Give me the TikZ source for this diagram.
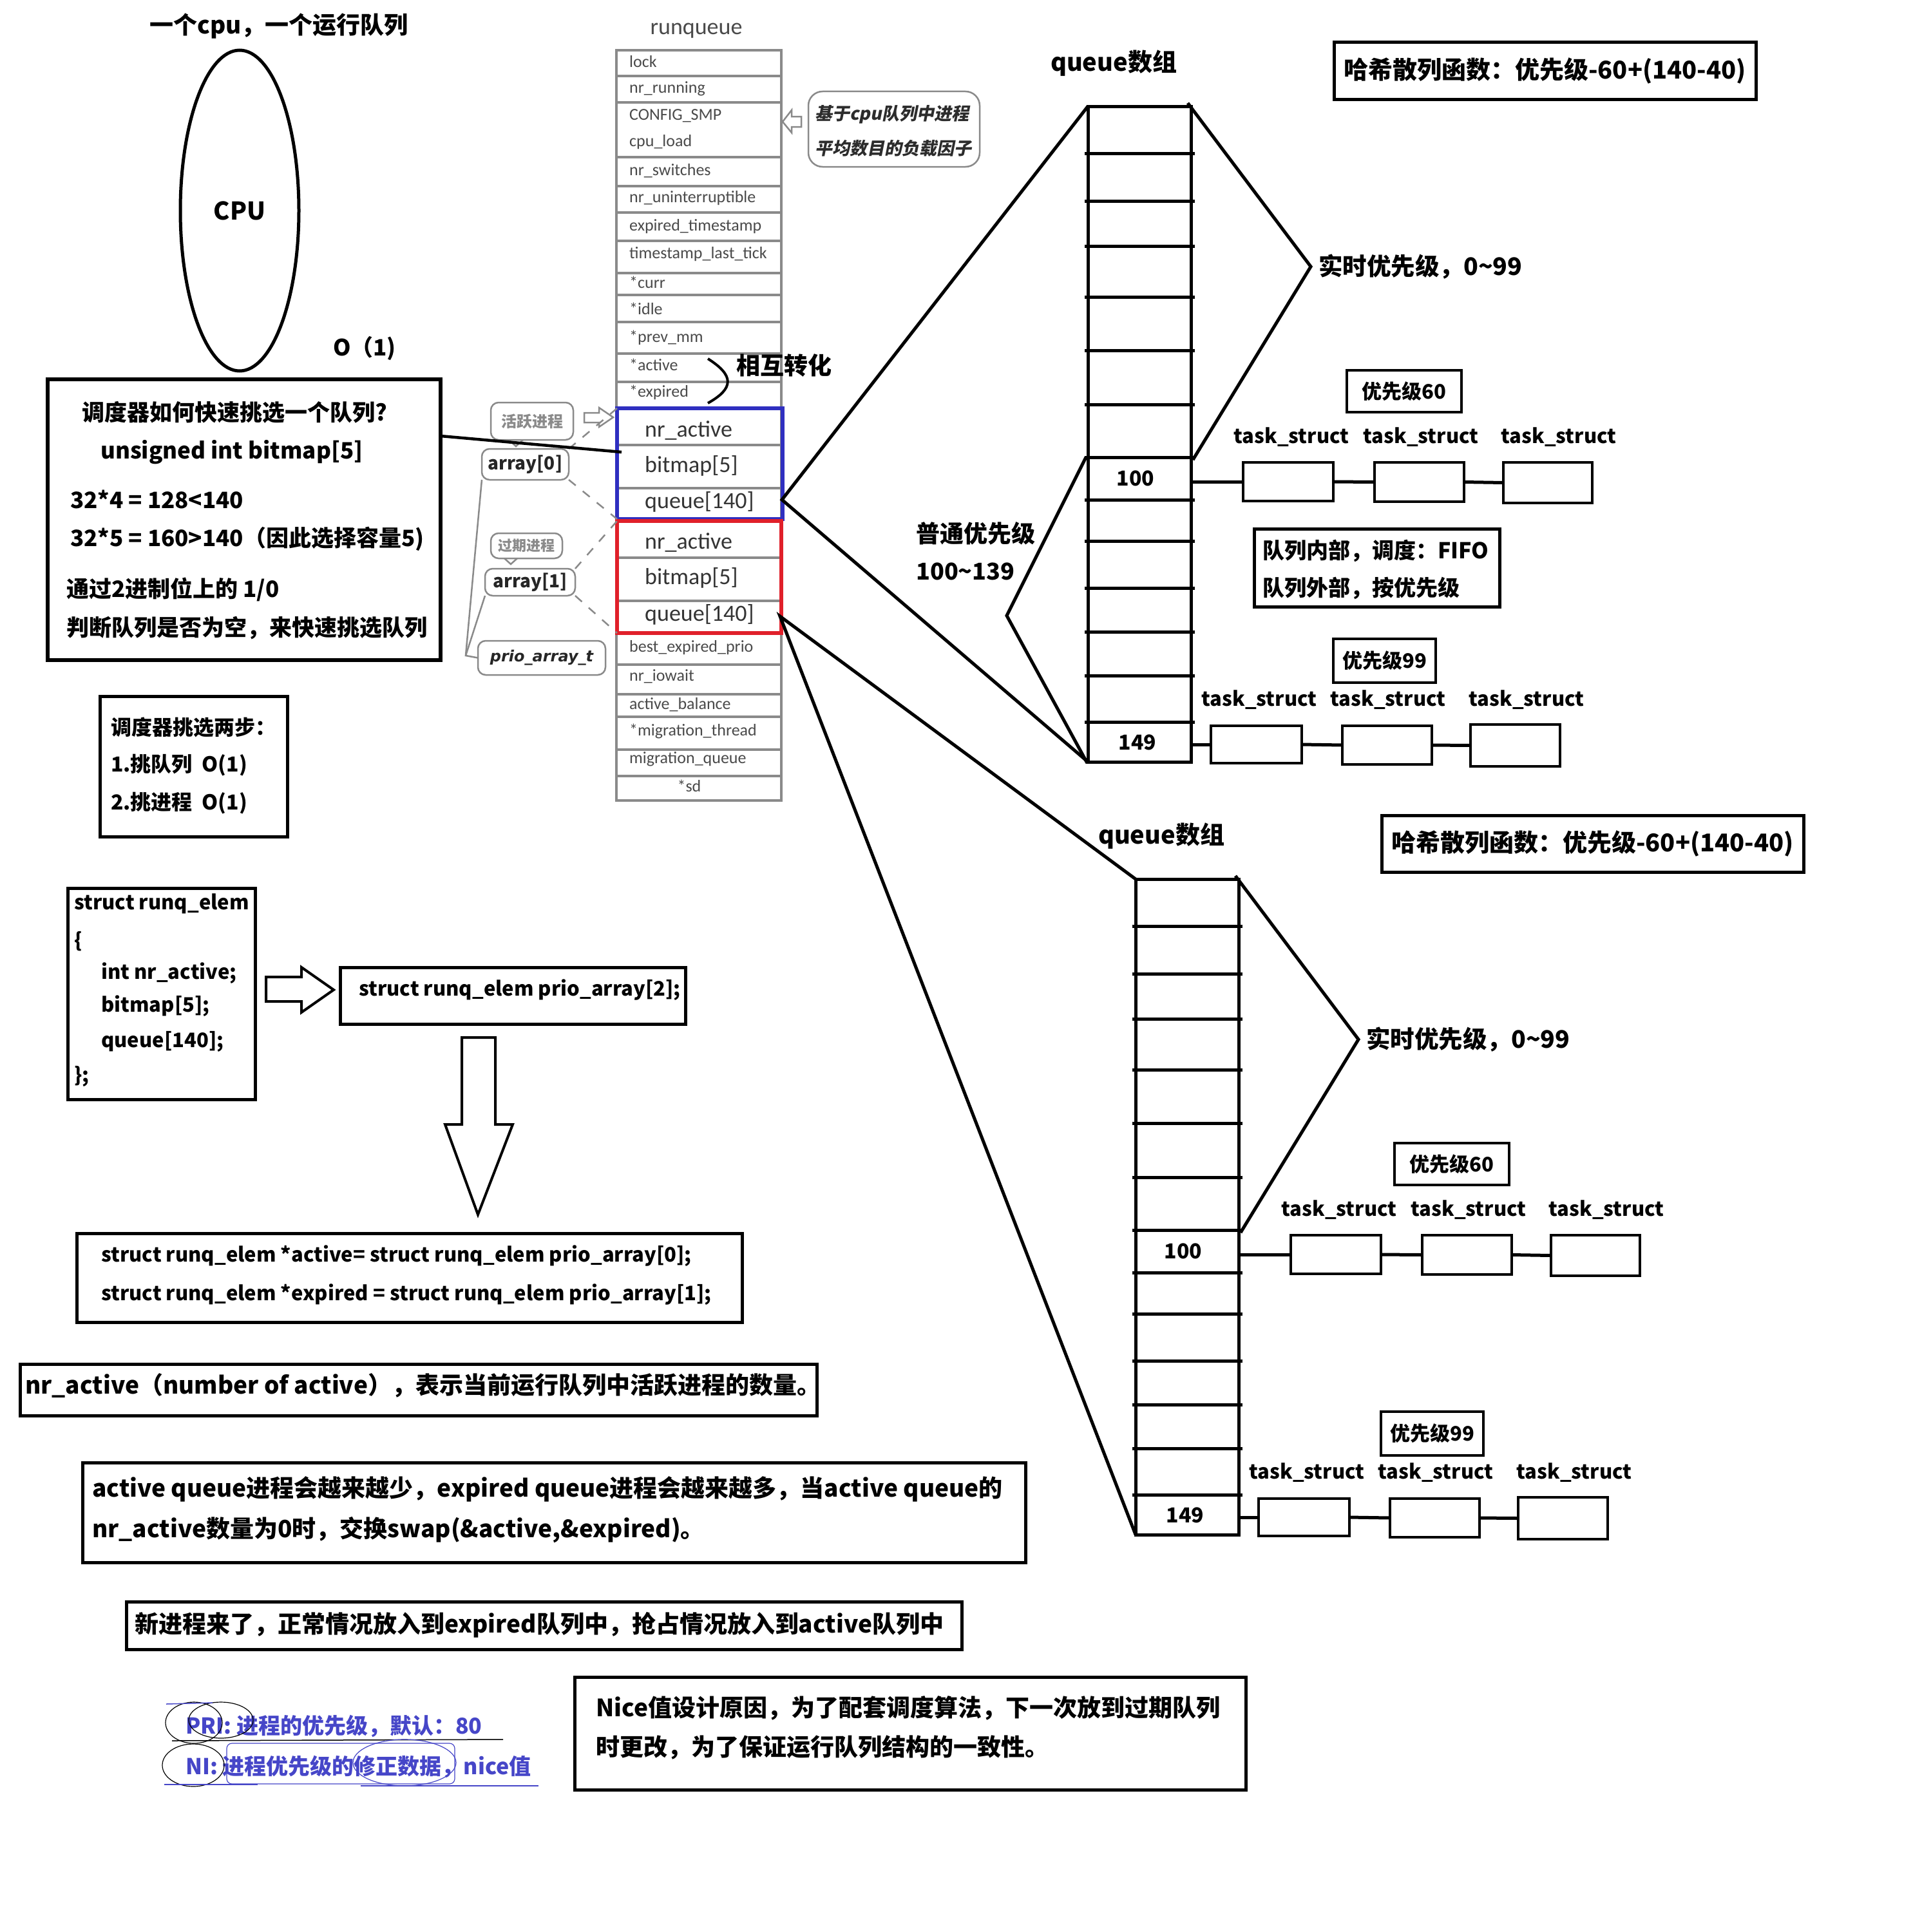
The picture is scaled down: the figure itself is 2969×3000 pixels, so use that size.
\documentclass[tikz,border=0pt]{standalone}
\usepackage{fontspec}
\setmainfont{Noto Sans CJK SC}
\newfontfamily\carl{Carlito}
\newfontfamily\dvs{DejaVu Sans}
\newfontfamily\slcjk{Noto Sans CJK SC}[FakeSlant=0.2]
\usetikzlibrary{shapes.geometric}
\newcommand\fsz[1]{\fontsize{#1}{#1}\selectfont}
\definecolor{tgray}{HTML}{8A8A8A}
\definecolor{ttext}{HTML}{4A4A4A}
\definecolor{bboxc}{HTML}{2F2FC0}
\definecolor{rboxc}{HTML}{E0202A}
\definecolor{pblue}{HTML}{4646C8}
\newcommand\rectnode[6][]{\node[bx,minimum width={((#5)-(#3))*1pt},minimum height={((#6)-(#4))*1pt},#1] (#2) at ({((#3)+(#5))/2},{((#4)+(#6))/2}) {};}
\tikzset{
  bx/.style={draw, line width=5pt, inner sep=0pt, outer sep=0pt},
  tx/.style={inner sep=0pt, anchor=west, font=\fsz{36}\bfseries},
  tc/.style={inner sep=0pt, font=\fsz{36}\bfseries},
  rq/.style={inner sep=0pt, anchor=west, text=ttext, font=\carl\fsz{26}},
  rqb/.style={inner sep=0pt, anchor=west, text=ttext!70!black, font=\carl\fsz{36}},
  ln/.style={line width=5pt},
  gl/.style={draw=tgray, line width=2.5pt, rounded corners=12pt},
  gline/.style={draw=tgray, line width=2.5pt},
}
\newcommand\qdiag[2]{%
\begin{scope}[shift={#1}]
\node[tc,font=\fsz{38}\bfseries] (qt#2) at (1729,98) {queue数组};
\rectnode{arr#2}{1689}{165}{1849}{1183}
\foreach \yy in {238,312,382,461,544,628,710,776,840,913,981,1049,1121}{\draw[line width=5pt] (1684,\yy) -- (1855,\yy);}
\node[tc,font=\fsz{32}\bfseries] (na#2) at (1763,743) {100};
\node[tc,font=\fsz{32}\bfseries] (nb#2) at (1766,1153) {149};
\coordinate (ra#2) at (1844,160);
\coordinate (rb#2) at (2035,414);
\coordinate (rc#2) at (1852,714);
\draw[ln] (ra#2) -- (rb#2) -- (rc#2);
\node[tx,font=\fsz{37.5}\bfseries] (rt#2) at (2047,414) {实时优先级，0\textasciitilde99};
\rectnode{hs#2}{2071}{66}{2726}{154}
\node[tc,font=\fsz{38}\bfseries] (hst#2) at (hs#2.center) {哈希散列函数：优先级-60+(140-40)};
\rectnode[line width=4.5pt]{pa#2}{2091}{575}{2269}{640}
\node[tc,font=\fsz{31}\bfseries] (pat#2) at (pa#2.center) {优先级60};
\node[tc,font=\fsz{31}\bfseries] (la#2) at (2005,679) {task\_struct};
\node[tc,font=\fsz{31}\bfseries] (lb#2) at (2206,679) {task\_struct};
\node[tc,font=\fsz{31}\bfseries] (lc#2) at (2420,679) {task\_struct};
\rectnode[line width=4.5pt]{tka#2}{1930}{718}{2070}{778}
\rectnode[line width=4.5pt]{tkb#2}{2134}{718}{2273}{779}
\rectnode[line width=4.5pt]{tkc#2}{2334}{718}{2472}{781}
\draw[ln] (arr#2.east |- tka#2.west) -- (tka#2.west);
\draw[ln] (tka#2.east) -- (tkb#2.west);
\draw[ln] (tkb#2.east) -- (tkc#2.west);
\rectnode[line width=4.5pt]{pb#2}{2070}{992}{2229}{1060}
\node[tc,font=\fsz{31}\bfseries] (pbt#2) at (pb#2.center) {优先级99};
\node[tc,font=\fsz{31}\bfseries] (ld#2) at (1955,1087) {task\_struct};
\node[tc,font=\fsz{31}\bfseries] (le#2) at (2155,1087) {task\_struct};
\node[tc,font=\fsz{31}\bfseries] (lf#2) at (2370,1087) {task\_struct};
\rectnode[line width=4.5pt]{tkd#2}{1880}{1127}{2021}{1185}
\rectnode[line width=4.5pt]{tke#2}{2084}{1127}{2223}{1187}
\rectnode[line width=4.5pt]{tkf#2}{2283}{1125}{2422}{1190}
\draw[ln] (arr#2.east |- tkd#2.west) -- (tkd#2.west);
\draw[ln] (tkd#2.east) -- (tke#2.west);
\draw[ln] (tke#2.east) -- (tkf#2.west);
\end{scope}}
\begin{document}
\begin{tikzpicture}[x=1pt,y=-1pt]
\useasboundingbox (0,0) rectangle (2969,3000);
\fill[white] (0,0) rectangle (2969,3000);

% ---------- CPU ----------
\node[tc,font=\fsz{37}\bfseries] (title) at (433,40) {一个cpu，一个运行队列};
\node[ellipse, draw, line width=5pt, minimum width=184pt, minimum height=498pt, inner sep=0pt, font=\fsz{38}\bfseries] (cpu) at (372,327) {CPU};
\node[tc,font=\fsz{35}\bfseries] (o1) at (566,541) {O（1)};

% ---------- box 1 ----------
\rectnode[line width=5.5pt]{bxa}{74}{589}{684}{1025}
\node[tx,font=\fsz{35}\bfseries] (b1a) at (127,640) {调度器如何快速挑选一个队列?};
\node[tx,font=\fsz{35}\bfseries] (b1b) at (156,702) {unsigned int bitmap[5]};
\node[tx,font=\fsz{35}\bfseries] (b1c) at (109,775) {32*4\ =\ 128<140};
\node[tx,font=\fsz{35}\bfseries] (b1d) at (109,837) {32*5\ =\ 160>140（因此选择容量5)};
\node[tx,font=\fsz{35}\bfseries] (b1e) at (103,915) {通过2进制位上的 1/0};
\node[tx,font=\fsz{35}\bfseries] (b1f) at (103,975) {判断队列是否为空，来快速挑选队列};

% ---------- box 2 ----------
\rectnode{bxb}{155}{1081}{446}{1299}
\node[tx,font=\fsz{32}\bfseries] (b2a) at (172,1129) {调度器挑选两步：};
\node[tx,font=\fsz{32}\bfseries] (b2b) at (172,1188) {1.挑队列\ \ O(1)};
\node[tx,font=\fsz{32}\bfseries] (b2c) at (172,1247) {2.挑进程\ \ O(1)};

% ---------- struct box ----------
\rectnode{bxc}{105}{1379}{396}{1707}
\node[tx,font=\fsz{31}\bfseries] (s1) at (115,1403) {struct runq\_elem};
\node[tx,font=\fsz{31}\bfseries] (s2) at (115,1462) {\{};
\node[tx,font=\fsz{31}\bfseries] (s3) at (157,1511) {int nr\_active;};
\node[tx,font=\fsz{31}\bfseries] (s4) at (157,1562) {bitmap[5];};
\node[tx,font=\fsz{31}\bfseries] (s5) at (157,1617) {queue[140];};
\node[tx,font=\fsz{31}\bfseries] (s6) at (115,1671) {\};};
\draw[line width=4pt] (413,1517) -- (468,1517) -- (468,1502) -- (518,1537) -- (468,1572) -- (468,1555) -- (413,1555) -- cycle;
\rectnode{bxd}{528}{1502}{1064}{1590}
\node[tx,font=\fsz{31}\bfseries] (pd) at (557,1537) {struct runq\_elem prio\_array[2];};
\draw[line width=4pt] (717,1611) -- (769,1611) -- (769,1746) -- (796,1746) -- (742,1886) -- (691,1746) -- (717,1746) -- cycle;
\rectnode{bxe}{119}{1915}{1152}{2053}
\node[tx,font=\fsz{31}\bfseries] (e1) at (157,1950) {struct runq\_elem *active= struct runq\_elem prio\_array[0];};
\node[tx,font=\fsz{31}\bfseries] (e2) at (157,2010) {struct runq\_elem *expired = struct runq\_elem prio\_array[1];};

% ---------- bottom boxes ----------
\rectnode{bxf}{31}{2118}{1268}{2198}
\node[tx,font=\fsz{37}\bfseries] (f1) at (39,2152) {nr\_active（number of active），表示当前运行队列中活跃进程的数量。};
\rectnode{bxg}{128}{2271}{1592}{2426}
\node[tx,font=\fsz{37}\bfseries] (g1) at (143,2312) {active queue进程会越来越少，expired queue进程会越来越多，当active queue的};
\node[tx,font=\fsz{37}\bfseries] (g2) at (143,2376) {nr\_active数量为0时，交换swap(\&active,\&expired)。};
\rectnode{bxh}{196}{2487}{1493}{2561}
\node[tx,font=\fsz{37}\bfseries] (h1) at (209,2523) {新进程来了，正常情况放入到expired队列中，抢占情况放入到active队列中};
\rectnode{bxi}{892}{2604}{1934}{2779}
\node[tx,font=\fsz{37}\bfseries] (i1) at (925,2652) {Nice值设计原因，为了配套调度算法，下一次放到过期队列};
\node[tx,font=\fsz{37}\bfseries] (i2) at (925,2713) {时更改，为了保证运行队列结构的一致性。};

% ---------- PRI / NI ----------
\node[tx,text=pblue,font=\fsz{34}\bfseries] (pri) at (288,2680) {PRI: 进程的优先级，默认：80};
\node[tx,text=pblue,font=\fsz{34}\bfseries] (ni) at (288,2743) {NI: 进程优先级的修正数据，nice值};
\draw[line width=1.5pt] (267,2703) -- (781,2701);
\draw[line width=1.2pt] (301,2675) ellipse [x radius=44pt, y radius=32pt];
\draw[line width=1.2pt] (343,2671) ellipse [x radius=50pt, y radius=28pt];
\draw[line width=1.2pt] (300,2741) ellipse [x radius=48pt, y radius=33pt];
\draw[pblue, line width=1.2pt, rounded corners=8pt] (352,2707) rectangle (706,2770);
\draw[pblue, line width=1.2pt] (628,2737) ellipse [x radius=80pt, y radius=36pt];
\draw[pblue, line width=1.5pt] (255,2771) -- (400,2771);
\draw[pblue, line width=1.5pt] (560,2773) -- (836,2773);
\draw[pblue, line width=1.5pt] (258,2646) -- (330,2644);

% ---------- runqueue table ----------
\node[inner sep=0pt, text=ttext, font=\carl\fsz{36}] (rqt) at (1081,48) {runqueue};
\rectnode[draw=tgray, line width=4pt]{rqx}{957}{78}{1213}{1243}
\foreach \yy in {118,159,244,289,330,374,424,458,500,549,593,691,758,866,933,1032,1078,1113,1164,1205}{\draw[tgray, line width=4pt] (957,\yy) -- (1213,\yy);}
\node[rq] (r1) at (977,96) {lock};
\node[rq] (r2) at (977,138) {nr\_running};
\node[rq] (r3) at (977,180) {CONFIG\_SMP};
\node[rq] (r4) at (977,221) {cpu\_load};
\node[rq] (r5) at (977,265) {nr\_switches};
\node[rq] (r6) at (977,308) {nr\_uninterruptible};
\node[rq] (r7) at (977,352) {expired\_timestamp};
\node[rq] (r8) at (977,395) {timestamp\_last\_tick};
\node[rq] (r9) at (977,438) {*curr};
\node[rq] (r10) at (977,479) {*idle};
\node[rq] (r11) at (977,524) {*prev\_mm};
\node[rq] (r12) at (977,566) {*active};
\node[rq] (r13) at (977,609) {*expired};
\node[rq] (r14) at (977,1006) {best\_expired\_prio};
\node[rq] (r15) at (977,1050) {nr\_iowait};
\node[rq] (r16) at (977,1094) {active\_balance};
\node[rq] (r17) at (977,1135) {*migration\_thread};
\node[rq] (r18) at (977,1179) {migration\_queue};
\node[inner sep=0pt, text=ttext, font=\carl\fsz{26}] (r19) at (1070,1220) {*sd};
\node[rqb] (q1) at (1001,668) {nr\_active};
\node[rqb] (q2) at (1001,723) {bitmap[5]};
\node[rqb] (q3) at (1001,779) {queue[140]};
\node[rqb] (q4) at (1001,842) {nr\_active};
\node[rqb] (q5) at (1001,897) {bitmap[5]};
\node[rqb] (q6) at (1001,954) {queue[140]};
\rectnode[draw=bboxc, line width=6pt]{blue}{958}{634}{1215}{806}
\rectnode[draw=rboxc, line width=6pt]{red}{958}{809}{1213}{983}

% side notes of runqueue
\draw[tgray, line width=2.5pt] (1215,189) -- (1229,171) -- (1229,181) -- (1244,181) -- (1244,197) -- (1229,197) -- (1229,206) -- cycle;
\rectnode[gl, rounded corners=22pt]{nt}{1255}{142}{1521}{259}
\node[tx, text=ttext!60!black, font=\slcjk\bfseries\fsz{27}] (nt1) at (1265,178) {基于cpu队列中进程};
\node[tx, text=ttext!60!black, font=\slcjk\bfseries\fsz{27}] (nt2) at (1265,230) {平均数目的负载因子};
\draw[line width=4pt] (1099,557) .. controls (1140,583) and (1140,603) .. (1099,626);
\node[tx,font=\fsz{37}\bfseries] (hz) at (1143,567) {相互转化};

% left labels
\rectnode[gl]{ca}{762}{625}{890}{683}
\draw[tgray, line width=2.5pt] (790,683) -- (801,693) -- (812,683);
\node[tc, text=tgray, font=\fsz{24}\bfseries] (cat) at (ca.center) {活跃进程};
\draw[tgray, line width=2.5pt] (907,641) -- (930,641) -- (930,633) -- (952,648) -- (930,663) -- (930,656) -- (907,656) -- cycle;
\rectnode[gl]{az}{748}{697}{883}{745}
\node[tc, text=black!85, font=\fsz{28}\bfseries] (azt) at (az.center) {array[0]};
\rectnode[gl]{cb}{762}{828}{873}{867}
\draw[tgray, line width=2.5pt] (783,867) -- (793,876) -- (803,867);
\node[tc, text=tgray, font=\fsz{22}\bfseries] (cbt) at (cb.center) {过期进程};
\rectnode[gl]{ao}{753}{883}{893}{925}
\node[tc, text=black!85, font=\fsz{28}\bfseries] (aot) at (ao.center) {array[1]};
\rectnode[gl]{pat}{742}{995}{940}{1048}
\node[tc, text=black!85, font=\dvs\bfseries\itshape\fsz{24}] (patt) at (pat.center) {prio\_array\_t};
\draw[tgray, line width=2.5pt, dash pattern=on 14pt off 14pt] (az.north east) -- (blue.north west);
\draw[tgray, line width=2.5pt, dash pattern=on 14pt off 14pt] (az.south east) -- (blue.south west);
\draw[tgray, line width=2.5pt, dash pattern=on 14pt off 14pt] (ao.north east) -- (red.north west);
\draw[tgray, line width=2.5pt, dash pattern=on 14pt off 14pt] (ao.south east) -- (red.south west);
\coordinate (pj) at (723,1018);
\draw[gline] (pat.west) -- (pj) -- (az.south west);
\draw[gline] (pj) -- (ao.south west);

% link box1 -> nr_active
\coordinate (c1) at (684,677);
\coordinate (c2) at (965,702);
\draw[line width=4.5pt] (c1) -- (c2);

% ---------- queue diagrams ----------
\qdiag{(0,0)}{a}
\qdiag{(74,1200)}{b}

\rectnode{fifo}{1947}{821}{2328}{942}
\node[tx,font=\fsz{34}\bfseries] (ff1) at (1960,855) {队列内部，调度：FIFO};
\node[tx,font=\fsz{34}\bfseries] (ff2) at (1960,913) {队列外部，按优先级};

\coordinate (bq) at (1214,776);
\coordinate (rqq) at (1211,957);
\draw[ln] (arra.north west) -- (bq) -- (arra.south west);
\draw[ln] (arrb.north west) -- (rqq) -- (arrb.south west);
\coordinate (pA) at (1686,710);
\coordinate (pB) at (1563,956);
\coordinate (pC) at (1688,1185);
\draw[ln] (pA) -- (pB) -- (pC);
\node[tx,font=\fsz{37}\bfseries] (pt1) at (1422,828) {普通优先级};
\node[tx,font=\fsz{36}\bfseries] (pt2) at (1422,887) {100\textasciitilde139};
\end{tikzpicture}
\end{document}
